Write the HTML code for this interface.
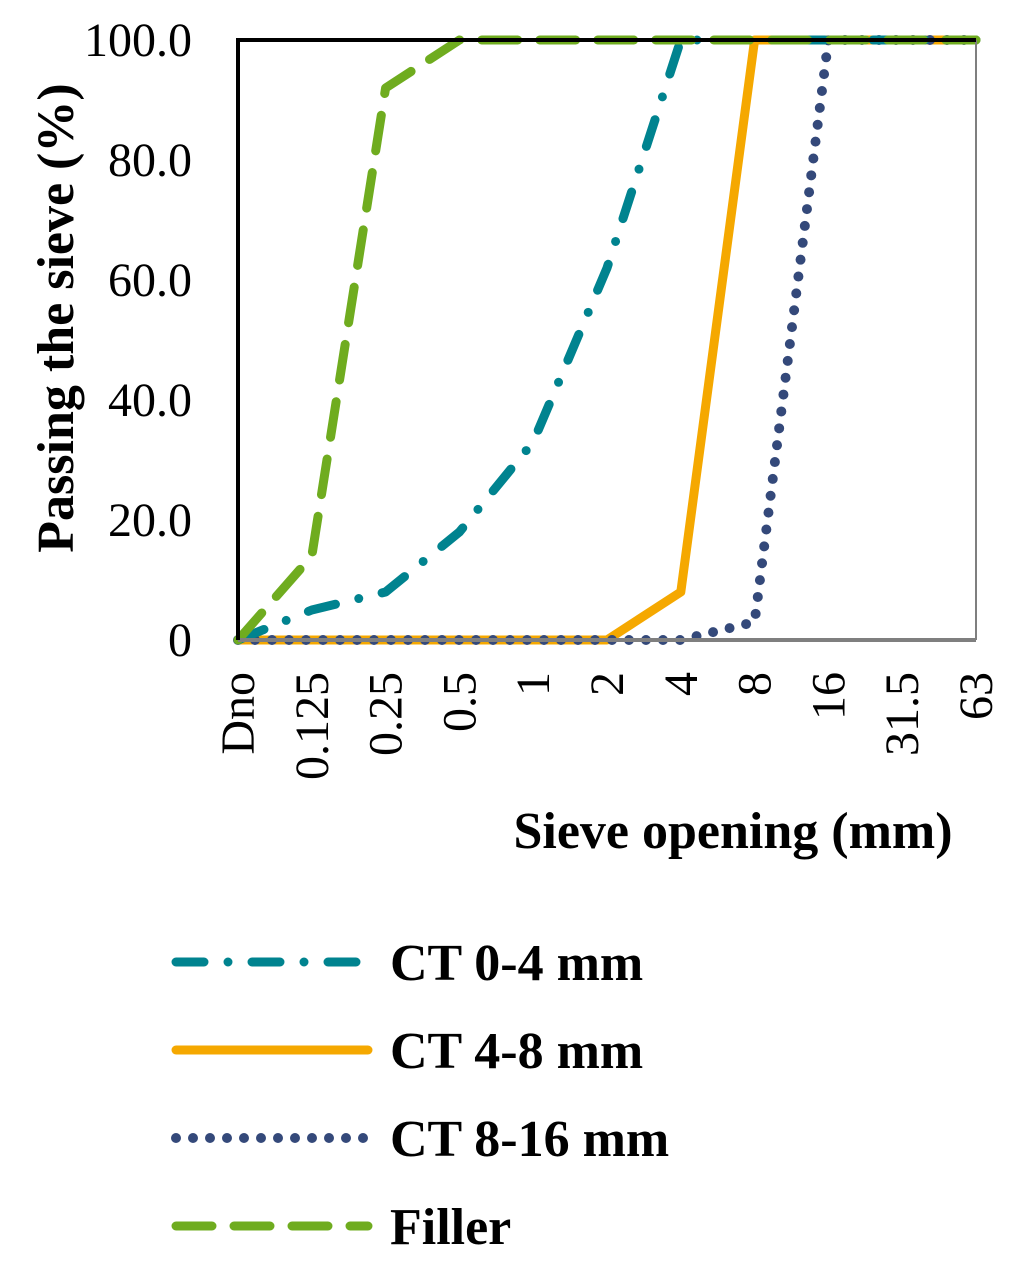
<!DOCTYPE html>
<html><head><meta charset="utf-8"><style>
body{margin:0;background:#fff}
svg text{font-family:"Liberation Serif",serif}
</style></head><body>
<svg id="chart" width="1024" height="1264" xmlns="http://www.w3.org/2000/svg">
<g id="grid"></g>
<g id="series"></g>
<g id="axes"></g>
<text transform="translate(73,318) rotate(-90)" text-anchor="middle" font-size="52" font-weight="bold">Passing the sieve (%)</text>
<text x="733" y="848" text-anchor="middle" font-size="52" font-weight="bold">Sieve opening (mm)</text>
<g id="legend"></g>
</svg>
<script>
const categories = ["Dno","0.125","0.25","0.5","1","2","4","8","16","31.5","63"];
const ct04 = [0,5,8,18,33,62,100,100,100,100,100];
const ct48 = [0,0,0,0,0,0,8,100,100,100,100];
const ct816 = [0,0,0,0,0,0,0,3,100,100,100];
const filler = [0,14,92,100,100,100,100,100,100,100,100];
const yTicks = [0,20,40,60,80,100];
const yTickLabels = ["0","20.0","40.0","60.0","80.0","100.0"];
const seriesNames = ["CT 0-4 mm","CT 4-8 mm","CT 8-16 mm","Filler"];

const NS="http://www.w3.org/2000/svg";
const L=238,R=976,T=40,B=640;
const xs=i=>L+i*(R-L)/(categories.length-1);
const ys=v=>B-v*(B-T)/100;
function mk(tag,attrs,parent){const e=document.createElementNS(NS,tag);for(const k in attrs)e.setAttribute(k,attrs[k]);parent.appendChild(e);return e;}
const axes=document.getElementById('axes'),ser=document.getElementById('series'),leg=document.getElementById('legend');

const styles=[
 {c:"#00838f",d:"28 24 0 24",w:9},
 {c:"#f5a800",d:"",w:9},
 {c:"#34497a",d:"0 17",w:10},
 {c:"#6fac1f",d:"36 22",w:9}];
const data=[ct04,ct48,ct816,filler];
const order=[1,2,0,3];
order.forEach(si=>{
  const pts=data[si].map((v,i)=>xs(i)+","+ys(v)).join(" ");
  const p=mk('polyline',{points:pts,fill:"none",stroke:styles[si].c,"stroke-width":styles[si].w,"stroke-linecap":"round","stroke-linejoin":"round"},ser);
  if(styles[si].d)p.setAttribute('stroke-dasharray',styles[si].d);
  
  
});

let a=mk('line',{x1:L,y1:B,x2:R,y2:B,stroke:"#7f7f7f","stroke-width":4},axes);

a=mk('line',{x1:R,y1:T,x2:R,y2:B,stroke:"#7f7f7f","stroke-width":2},axes);

a=mk('line',{x1:L,y1:T,x2:R,y2:T,stroke:"#000","stroke-width":4},axes);

a=mk('line',{x1:L,y1:T-2,x2:L,y2:B,stroke:"#000","stroke-width":4},axes);


yTicks.forEach((v,i)=>{
  const t=mk('text',{x:192,y:ys(v)+16,"text-anchor":"end","font-size":48},axes);
  t.textContent=yTickLabels[i];
  
  
});
categories.forEach((c,i)=>{
  const x=xs(i)+16;
  const t=mk('text',{transform:`translate(${x},672) rotate(-90)`,"text-anchor":"end","font-size":48},axes);
  t.textContent=c;
  
  
});

seriesNames.forEach((n,i)=>{
  const y=962+i*88;
  const g=mk('g',{},leg);
  
  
  const l=mk('line',{x1:176,y1:y,x2:368,y2:y,stroke:styles[i].c,"stroke-width":styles[i].w,"stroke-linecap":"round"},g);
  if(styles[i].d)l.setAttribute('stroke-dasharray',styles[i].d);
  const t=mk('text',{x:390,y:y+18,"font-size":52,"font-weight":"bold"},g);
  t.textContent=n;
});
</script>
</body></html>
